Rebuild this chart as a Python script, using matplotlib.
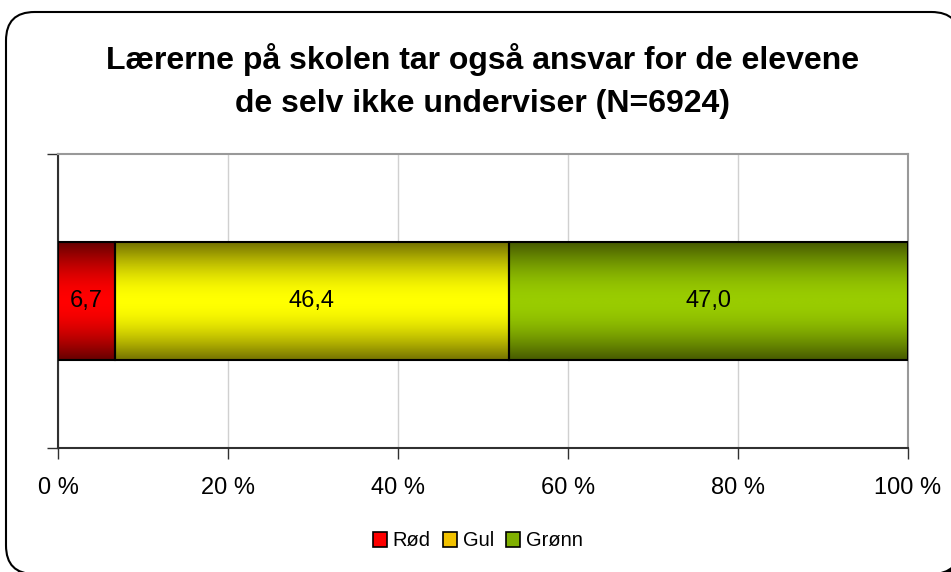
import matplotlib.pyplot as plt
import numpy as np
from matplotlib.colors import LinearSegmentedColormap
from matplotlib.patches import FancyBboxPatch

plt.rcParams['font.family'] = ['Liberation Sans', 'DejaVu Sans']

# data
title = "Lærerne på skolen tar også ansvar for de elevene\nde selv ikke underviser (N=6924)"
categories = ['Rød', 'Gul', 'Grønn']
values = [6.7, 46.4, 47.0]
labels = ['6,7', '46,4', '47,0']
tick_labels = ['0 %', '20 %', '40 %', '60 %', '80 %', '100 %']

# gradient colours: (edge, middle) per segment, plus legend swatch colour
grad_colors = [('#660000', '#ff0000'), ('#747200', '#ffff00'), ('#465a00', '#99cc00')]
legend_colors = ['#ff0000', '#f2c200', '#80b000']

W, H = 951, 572
fig = plt.figure(figsize=(W / 100, H / 100), dpi=100)

# rounded chart border with shadow
def px_box(x0, y0, x1, y1):
    return (x0 / W, 1 - y1 / H, (x1 - x0) / W, (y1 - y0) / H)

bx = px_box(6, 12, 960, 574)
shadow = FancyBboxPatch((bx[0] + 6 / W, bx[1] - 6 / H), bx[2], bx[3],
                        boxstyle="round,pad=0,rounding_size=0.03",
                        mutation_aspect=W / H, transform=fig.transFigure,
                        facecolor='black', edgecolor='none', zorder=-3)
box = FancyBboxPatch((bx[0], bx[1]), bx[2], bx[3],
                     boxstyle="round,pad=0,rounding_size=0.03",
                     mutation_aspect=W / H, transform=fig.transFigure,
                     facecolor='white', edgecolor='black', linewidth=1.5, zorder=-2)
fig.patches.extend([shadow, box])

fig.text(483 / W, 1 - 81 / H, title, ha='center', va='center',
         fontsize=23, fontweight='bold', linespacing=1.55)

ax = fig.add_axes([58 / W, 1 - 448 / H, 850 / W, 294 / H])
ax.set_facecolor('none')
ax.set_xlim(0, 1)
ax.set_ylim(-0.5, 0.5)

total = sum(values)
bar_h = 0.4
left = 0.0
t = np.linspace(0, 1, 200)
prof = np.sin(np.pi * t)[:, None]
for i, v in enumerate(values):
    w = v / total
    cmap = LinearSegmentedColormap.from_list('g%d' % i, [grad_colors[i][0], grad_colors[i][1]])
    ax.imshow(prof, cmap=cmap, aspect='auto', extent=[left, left + w, -bar_h / 2, bar_h / 2],
              vmin=0, vmax=1, zorder=2, interpolation='bilinear')
    ax.add_patch(plt.Rectangle((left, -bar_h / 2), w, bar_h, fill=False,
                               edgecolor='black', linewidth=1.5, zorder=3))
    ax.text(left + w / 2, 0, labels[i], ha='center', va='center', fontsize=17, zorder=4)
    left += w

ax.set_xticks(np.linspace(0, 1, 6))
ax.set_xticklabels(tick_labels, fontsize=17)
ax.set_yticks([-0.5, 0.5])
ax.set_yticklabels([])
ax.grid(axis='x', color='#d0d0d0', linewidth=1, zorder=1)
ax.set_axisbelow(True)

for s in ['top', 'right']:
    ax.spines[s].set_color('#999999')
    ax.spines[s].set_linewidth(1.5)
for s in ['left', 'bottom']:
    ax.spines[s].set_color('#303030')
    ax.spines[s].set_linewidth(1.5)
ax.tick_params(axis='x', length=8, width=1, color='#303030', pad=13)
ax.tick_params(axis='y', length=8, width=1, color='#303030')

handles = [plt.Rectangle((0, 0), 1, 1, facecolor=c, edgecolor='black', linewidth=1.2)
           for c in legend_colors]
fig.legend(handles, categories, loc='center', bbox_to_anchor=(478 / W, 1 - 541 / H),
           ncol=3, frameon=False, fontsize=14.5, handlelength=0.7, handleheight=0.7,
           handletextpad=0.3, columnspacing=0.6)

fig.savefig('out.png', dpi=100)
